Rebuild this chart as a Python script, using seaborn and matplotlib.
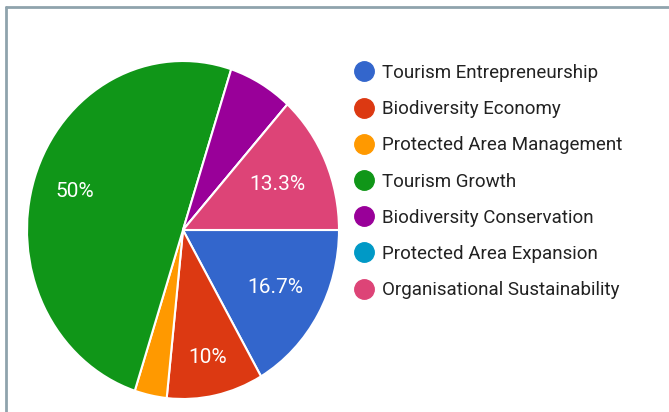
import matplotlib
matplotlib.use("Agg")
import math
import matplotlib.pyplot as plt
import seaborn as sns
from matplotlib.lines import Line2D

sns.set_theme(style="white")
plt.rcParams['font.family'] = ['Roboto', 'DejaVu Sans']

categories = ["Tourism Entrepreneurship", "Biodiversity Economy", "Protected Area Management",
              "Tourism Growth", "Biodiversity Conservation", "Protected Area Expansion",
              "Organisational Sustainability"]
counts = [5, 3, 1, 15, 2, 0, 4]
colors = ["#3366cc", "#dc3912", "#ff9900", "#109618", "#990099", "#0099c6", "#dd4477"]

W, H = 669, 412
fig = plt.figure(figsize=(W / 100, H / 100), dpi=100)

# pie axes placed by pixel box (slightly taller than wide, like the reference)
cx, cy, rx, ry = 183, 230, 156, 169
ax = fig.add_axes([(cx - rx) / W, 1 - (cy + ry) / H, 2 * rx / W, 2 * ry / H])


def fmt(p):
    if p < 8:
        return ""
    s = f"{p:.1f}"
    if s.endswith(".0"):
        s = s[:-2]
    return s + "%"


wedges, texts, autotexts = ax.pie(
    counts, colors=colors, startangle=0, counterclock=False,
    autopct=fmt, pctdistance=0.7,
    wedgeprops=dict(edgecolor="white", linewidth=1.5),
    textprops=dict(color="white", fontsize=15),
)
# per-label radial distance (label placement style)
label_dist = [0.68, 0.77, 0.7, 0.73, 0.7, 0.7, 0.665]
for w, t, d in zip(wedges, autotexts, label_dist):
    ang = math.radians((w.theta1 + w.theta2) / 2)
    t.set_position((d * math.cos(ang), d * math.sin(ang)))

ax.set_aspect("auto")
ax.set_xlim(-1, 1)
ax.set_ylim(-1, 1)
ax.axis("off")

handles = [Line2D([0], [0], marker="o", linestyle="none", markersize=14,
                  markerfacecolor=c, markeredgecolor=c) for c in colors]
leg = fig.legend(handles, categories, loc="upper left",
                 bbox_to_anchor=(355 / W, 1 - 64 / H), frameon=False,
                 fontsize=13.5, labelspacing=0.97, handletextpad=0.45,
                 handlelength=1.0, borderaxespad=0, borderpad=0)
for t in leg.get_texts():
    t.set_color("#222222")

# frame lines (top and left)
fc = "#8fa3ad"
fig.add_artist(Line2D([6 / W, 1], [1 - 7 / H, 1 - 7 / H], color=fc, linewidth=2,
                      transform=fig.transFigure))
fig.add_artist(Line2D([6 / W, 6 / W], [0, 1 - 7 / H], color=fc, linewidth=2,
                      transform=fig.transFigure))

fig.savefig("out.png", dpi=100)
